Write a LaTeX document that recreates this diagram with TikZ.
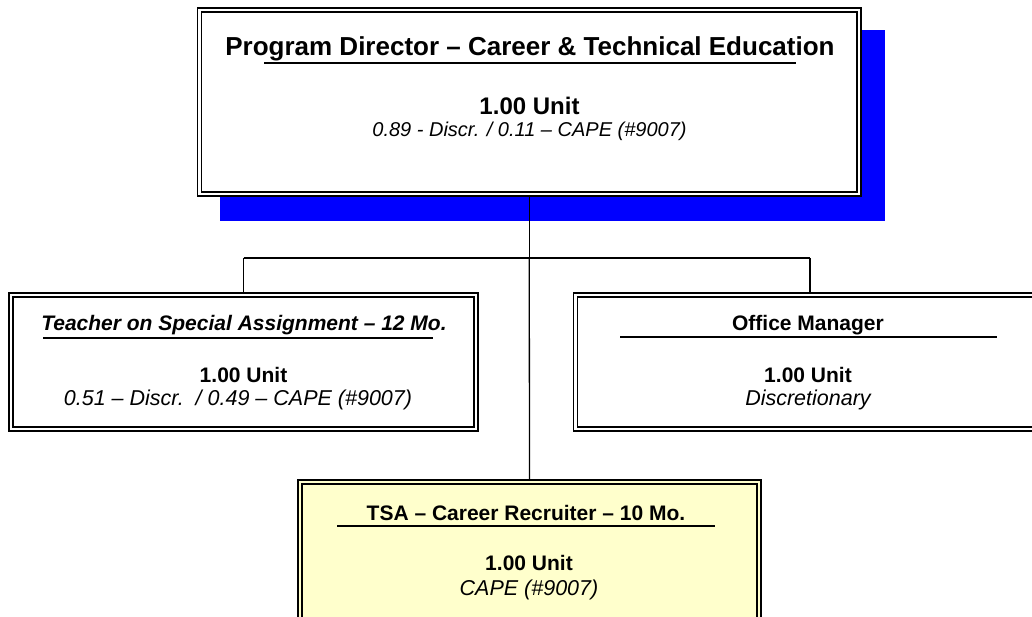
\documentclass[tikz,border=0pt]{standalone}
\usepackage{fontspec}
\setmainfont{Liberation Sans}
\definecolor{shadowblue}{RGB}{0,0,255}
\definecolor{paleyellow}{RGB}{255,255,204}
\begin{document}
\begin{tikzpicture}[x=1pt,y=-1pt,
  box/.style={draw=black, line width=1.6pt, double=white, double distance=2.6pt,
              rectangle, inner sep=0pt, outer sep=2.9pt, fill=white},
  ybox/.style={box, double=paleyellow, fill=paleyellow},
  shadowbox/.style={rectangle, fill=shadowblue, inner sep=0pt, outer sep=0pt},
  conn/.style={draw=black, line width=1.3pt},
  uline/.style={draw=black, line width=1.4pt},
  txt/.style={anchor=base, inner sep=0pt},
  bigtitle/.style={txt, font=\fontsize{26}{30}\selectfont\bfseries},
  subtitle/.style={txt, font=\fontsize{21}{25}\selectfont\bfseries},
  subtitleit/.style={txt, font=\fontsize{21}{25}\selectfont\bfseries\itshape},
  bigunit/.style={txt, font=\fontsize{24}{28}\selectfont\bfseries},
  bignote/.style={txt, font=\fontsize{20}{24}\selectfont\itshape},
  unit/.style={txt, font=\fontsize{21}{25}\selectfont\bfseries},
  note/.style={txt, font=\fontsize{21.5}{25}\selectfont\itshape},
]
\useasboundingbox (0,0) rectangle (1032,617);
\clip (0,0) rectangle (1032,617);

% shadow and top box
\node[shadowbox, minimum width=665pt, minimum height=191pt] (shadow) at (552.5,125.5) {};
\node[box, minimum width=659.7pt, minimum height=184.2pt] (top) at (529.25,102) {};

% child boxes
\node[box, minimum width=465.2pt, minimum height=134.2pt] (lbox) at (243.5,362) {};
\node[box, minimum width=469.2pt, minimum height=134.2pt] (rbox) at (810,362) {};
\node[ybox, minimum width=459.2pt, minimum height=168.1pt] (bbox) at (529.5,566) {};

% connectors
\coordinate (hub) at (529.25,258);
\draw[conn] (top.south) -- (hub);
\draw[conn] (lbox.north |- hub) -- (rbox.north |- hub);
\draw[conn] (lbox.north |- hub) -- (lbox.north);
\draw[conn] (rbox.north |- hub) -- (rbox.north);
\draw[conn] (hub) -- (bbox.north);

% top box text
\node[bigtitle] (toptitle) at (530,56) {Program Director -- Career \& Technical Education};
\draw[uline] (264,63) -- (796,63);
\node[bigunit] (topunit) at (529.5,115) {1.00 Unit};
\node[bignote] (topnote) at (529.5,137) {0.89 - Discr. / 0.11 -- CAPE (\#9007)};

% left box text
\node[subtitleit] (ltitle) at (244,330) {Teacher on Special Assignment -- 12 Mo.};
\draw[uline] (43,338) -- (433,338);
\node[unit] (lunit) at (243.5,382) {1.00 Unit};
\node[note] (lnote) at (238,405) {0.51 -- Discr.\ \ / 0.49 -- CAPE (\#9007)};

% right box text
\node[subtitle] (rtitle) at (808,330) {Office Manager};
\draw[uline] (620,337) -- (997,337);
\node[unit] (runit) at (808,382) {1.00 Unit};
\node[note] (rnote) at (808,405) {Discretionary};

% bottom box text
\node[subtitle] (btitle) at (526,520) {TSA -- Career Recruiter -- 10 Mo.};
\draw[uline] (337,526) -- (715,526);
\node[unit] (bunit) at (529,570) {1.00 Unit};
\node[note] (bnote) at (529,595) {CAPE (\#9007)};
\end{tikzpicture}
\end{document}
